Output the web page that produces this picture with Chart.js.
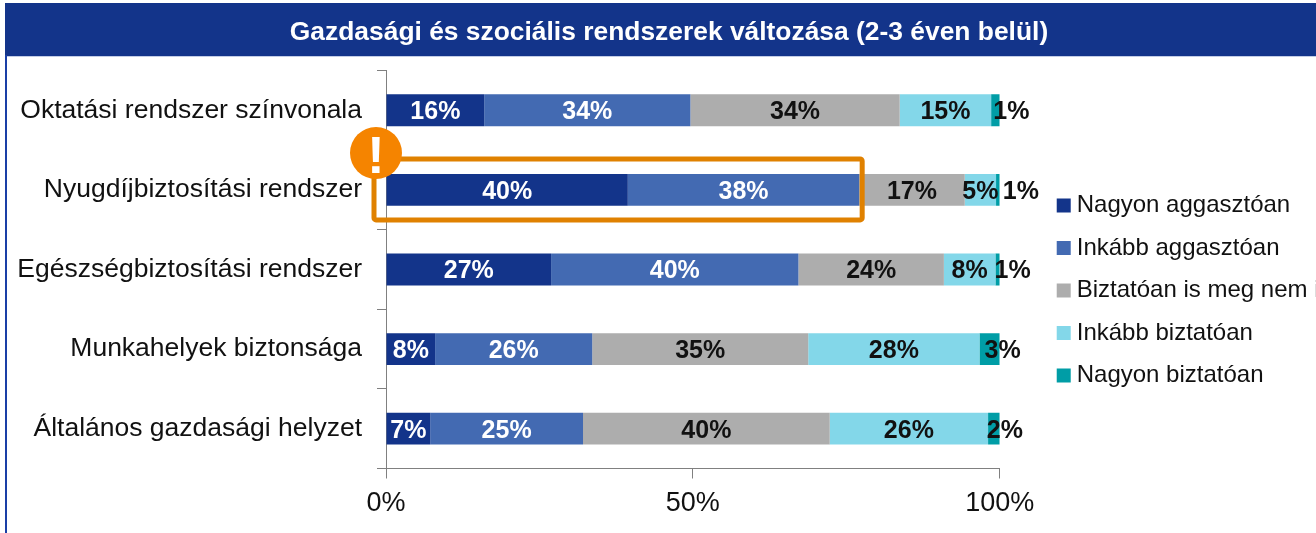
<!DOCTYPE html>
<html><head><meta charset="utf-8">
<script src="https://cdn.jsdelivr.net/npm/chart.js@4/dist/chart.umd.min.js"></script>
<style>html,body{margin:0;padding:0;background:#fff;overflow:hidden}#w{position:absolute;left:0;top:0;width:1316px;height:533px}</style>
</head><body><div id="w"><canvas id="c" width="1316" height="533"></canvas></div>
<script>
const chartTitle = 'Gazdasági és szociális rendszerek változása (2-3 éven belül)';
const categories = ['Oktatási rendszer színvonala','Nyugdíjbiztosítási rendszer','Egészségbiztosítási rendszer','Munkahelyek biztonsága','Általános gazdasági helyzet'];
const seriesNames = ['Nagyon aggasztóan','Inkább aggasztóan','Biztatóan is meg nem is','Inkább biztatóan','Nagyon biztatóan'];
const nagyonAggaszto = [16.0,39.4,26.9,8.0,7.2];
const inkabbAggaszto = [33.6,37.7,40.3,25.6,24.9];
const semleges = [34.1,17.2,23.7,35.2,40.2];
const inkabbBiztato = [14.9,5.1,8.4,27.9,25.8];
const nagyonBiztato = [1.4,0.6,0.7,3.3,1.9];
const shownLabels = [[16,34,34,15,1],[40,38,17,5,1],[27,40,24,8,1],[8,26,35,28,3],[7,25,40,26,2]];
const colors = ['#13348a','#436ab2','#adadad','#83d7e9','#009da6'];
const lastLabelShift = [16,23,15,13,11];
const highlightRow = 1;

const allSeries = [nagyonAggaszto,inkabbAggaszto,semleges,inkabbBiztato,nagyonBiztato];
const F = 'Liberation Sans, Arial, sans-serif';

const furniture = {
  id:'furniture',
  afterLayout(chart){
    chart.titleBlock.left += 20.5; chart.titleBlock.right += 20.5;
    const lg = chart.legend;
    lg.left += 44.5; lg.right = 1316; lg.top += 24; lg.bottom += 24;
  },
  beforeDraw(chart){
    const c = chart.ctx; c.save();
    c.fillStyle='#13348a'; c.fillRect(5,3,1311,53);
    c.fillStyle='#c3cde6'; c.fillRect(7,56,1309,1);
    c.fillStyle='#1a3fa6'; c.fillRect(5,55,2,478);
    c.restore();
  }
};
const marks = {
  id:'marks',
  afterDatasetsDraw(chart){
    const c = chart.ctx; c.save();
    c.textAlign='center'; c.textBaseline='middle'; c.font='bold 25px '+F;
    allSeries.forEach((s,si)=>{
      const meta = chart.getDatasetMeta(si);
      s.forEach((v,ri)=>{
        const b = meta.data[ri];
        const x = (b.x + b.base)/2 + (si===4 ? lastLabelShift[ri] : 0);
        c.fillStyle = si<2 ? '#ffffff' : '#111111';
        c.fillText(shownLabels[ri][si]+'%', x, b.y+2);
      });
    });
    // highlight box
    const b2 = chart.getDatasetMeta(1).data[highlightRow];
    const l = chart.scales.x.left-12, r = b2.x+3, t = b2.y-31, bt = b2.y+30;
    c.strokeStyle='#e08100'; c.lineWidth=5; c.lineJoin='round';
    c.beginPath(); c.roundRect(l,t,r-l,bt-t,2); c.stroke();
    c.fillStyle='#f58400'; c.beginPath(); c.arc(376,153,26,0,Math.PI*2); c.fill();
    c.fillStyle='#fff'; c.font='bold 52px '+F; c.fillText('!',376,159);
    c.restore();
  }
};

new Chart(document.getElementById('c'),{
  type:'bar',
  data:{labels:categories,datasets:allSeries.map((s,i)=>({label:seriesNames[i],data:s,backgroundColor:colors[i],borderWidth:0,categoryPercentage:0.4,barPercentage:1}))},
  plugins:[furniture,marks],
  options:{
    indexAxis:'y',responsive:false,animation:false,
    layout:{padding:{top:0,bottom:0,left:0,right:19}},
    plugins:{
      tooltip:{enabled:false},
      title:{display:true,text:chartTitle,color:'#fff',font:{family:F,size:26.4,weight:'bold'},padding:{top:17,bottom:21.8}},
      legend:{position:'right',align:'center',labels:{color:'#111',usePointStyle:true,pointStyle:'rect',boxWidth:2,boxHeight:14,padding:18.5,font:{family:F,size:24}}}
    },
    scales:{
      x:{stacked:true,min:0,max:100,
        ticks:{stepSize:50,callback:v=>v+'%',color:'#111',font:{family:F,size:27},padding:9,maxRotation:0},
        grid:{drawOnChartArea:false,tickLength:10,color:'#808080'},border:{color:'#808080'},
        afterFit(a){a.height=64.5;}},
      y:{stacked:true,
        ticks:{color:'#111',font:{family:F,size:26.5},padding:15,autoSkip:false},
        grid:{drawOnChartArea:false,tickLength:9,color:'#808080'},border:{color:'#808080'},
        afterFit(a){a.width=386;}}
    }
  }
});
</script></body></html>
